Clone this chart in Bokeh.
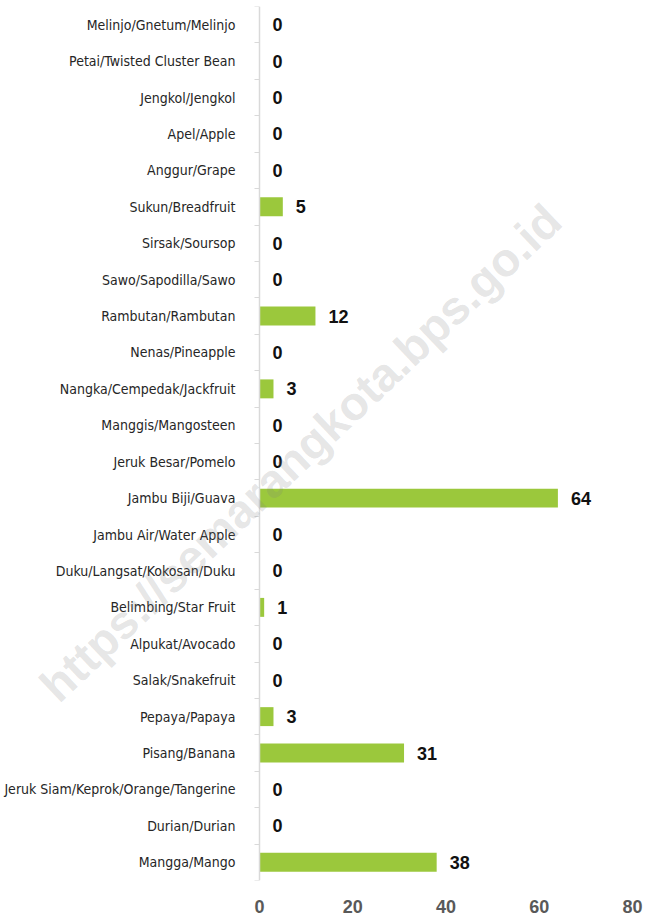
import math
from bokeh.plotting import figure
from bokeh.models import Range1d, FactorRange, LinearAxis, FixedTicker, Label, ColumnDataSource
from bokeh.core.properties import value
from bokeh.embed import file_html
from bokeh.resources import INLINE

# Categories listed top to bottom as in the chart
categories = [
    "Melinjo/Gnetum/Melinjo",
    "Petai/Twisted Cluster Bean",
    "Jengkol/Jengkol",
    "Apel/Apple",
    "Anggur/Grape",
    "Sukun/Breadfruit",
    "Sirsak/Soursop",
    "Sawo/Sapodilla/Sawo",
    "Rambutan/Rambutan",
    "Nenas/Pineapple",
    "Nangka/Cempedak/Jackfruit",
    "Manggis/Mangosteen",
    "Jeruk Besar/Pomelo",
    "Jambu Biji/Guava",
    "Jambu Air/Water Apple",
    "Duku/Langsat/Kokosan/Duku",
    "Belimbing/Star Fruit",
    "Alpukat/Avocado",
    "Salak/Snakefruit",
    "Pepaya/Papaya",
    "Pisang/Banana",
    "Jeruk Siam/Keprok/Orange/Tangerine",
    "Durian/Durian",
    "Mangga/Mango",
]
values = [0, 0, 0, 0, 0, 5, 0, 0, 12, 0, 3, 0, 0, 64, 0, 0, 1, 0, 0, 3, 31, 0, 0, 38]
x_ticks = [0, 20, 40, 60, 80]
watermark = "https://semarangkota.bps.go.id"

cats_bt = categories[::-1]
vals_bt = values[::-1]
n = len(categories)

src = ColumnDataSource(dict(cat=cats_bt, val=vals_bt, base=[0] * n,
                            lbl=[str(v) for v in vals_bt]))

# frame spans the whole canvas width so the watermark can run over the labels;
# the value axis starts 259 px into the frame and spans 373 px
W, RIGHT, AXIS_PX, SPAN_PX = 645, 13, 259, 373
x_start = x_ticks[0] - AXIS_PX * (x_ticks[-1] - x_ticks[0]) / SPAN_PX

p = figure(
    width=W, height=915,
    output_backend="svg", toolbar_location=None,
    x_range=Range1d(x_start, x_ticks[-1]),
    y_range=FactorRange(factors=cats_bt),
    y_axis_location=None,
    min_border_left=0, min_border_right=RIGHT, min_border_top=6, min_border_bottom=35,
)
p.outline_line_color = None
p.xgrid.visible = False
p.ygrid.visible = False
p.background_fill_color = "white"
p.border_fill_color = "white"

# x axis
xa = p.xaxis[0]
xa.ticker = FixedTicker(ticks=x_ticks)
xa.axis_line_color = None
xa.major_tick_line_color = None
xa.minor_tick_line_color = None
xa.major_label_standoff = 13
xa.major_label_text_font = "Liberation Sans"
xa.major_label_text_font_style = "bold"
xa.major_label_text_font_size = "18px"
xa.major_label_text_color = "#595959"

# y axis line at value 0 with small ticks at category boundaries
yax = LinearAxis(
    fixed_location=0,
    ticker=FixedTicker(ticks=[], minor_ticks=list(range(n + 1))),
)
yax.major_tick_line_color = None
yax.major_tick_out = 0
yax.major_tick_in = 0
yax.major_label_standoff = 0
yax.major_label_text_font_size = "0px"
yax.minor_tick_out = 5
yax.minor_tick_in = 0
yax.minor_tick_line_color = "#d9d9d9"
yax.axis_line_color = "#d9d9d9"
yax.axis_line_width = 1.5
p.add_layout(yax, "left")

# category labels
p.text(x="base", y="cat", text="cat", source=src, x_offset=-24,
       text_align="right", text_baseline="middle",
       text_font=value("DejaVu Sans Condensed, Liberation Sans"),
       text_font_size="14px", text_color="#262626")

p.hbar(y="cat", left="base", right="val", height=0.52, source=src,
       fill_color="#9BC83C", line_color=None)

p.text(x="val", y="cat", text="lbl", source=src, x_offset=13,
       text_align="left", text_baseline="middle",
       text_font=value("Liberation Sans"), text_font_style="bold",
       text_font_size="18px", text_color="#111111")

wm = Label(x=8.8, y=11.75, text=watermark,
           angle=math.radians(43.5), text_align="center", text_baseline="middle",
           text_font="Liberation Sans", text_font_style="bold", text_font_size="47px",
           text_color="#7f7f7f", text_alpha=0.21)
p.add_layout(wm)

open("out.html", "w").write(file_html(p, INLINE))
